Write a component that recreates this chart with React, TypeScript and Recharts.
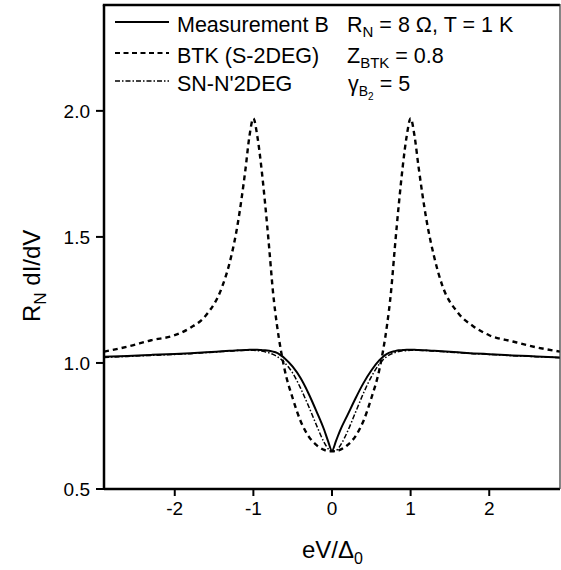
import React from "react";
import { LineChart, Line, XAxis, YAxis } from "recharts";

const energies = [
  -2.9, -2.6, -2.3, -2.0, -1.8, -1.6, -1.4, -1.3, -1.2, -1.1, -1.05, -1.0, -0.95,
  -0.9, -0.85, -0.8, -0.75, -0.7, -0.65, -0.6, -0.5, -0.4, -0.3, -0.2, -0.1, -0.05,
  0,
  0.05, 0.1, 0.2, 0.3, 0.4, 0.5, 0.6, 0.65, 0.7, 0.75, 0.8, 0.85, 0.9, 0.95, 1.0,
  1.05, 1.1, 1.2, 1.3, 1.4, 1.6, 1.8, 2.0, 2.3, 2.6, 2.9,
];

const measurementB = [
  1.025, 1.028, 1.032, 1.036, 1.039, 1.042, 1.046, 1.048, 1.05, 1.051, 1.052, 1.052, 1.052,
  1.051, 1.05, 1.048, 1.045, 1.04, 1.03, 1.018, 0.985, 0.94, 0.88, 0.81, 0.735, 0.69,
  0.652,
  0.69, 0.73, 0.795, 0.86, 0.92, 0.97, 1.01, 1.025, 1.036, 1.043, 1.047, 1.05, 1.051, 1.052, 1.052,
  1.052, 1.051, 1.05, 1.048, 1.046, 1.042, 1.038, 1.035, 1.03, 1.026, 1.022,
];

const btk = [
  1.045, 1.065, 1.09, 1.11, 1.14, 1.19, 1.3, 1.4, 1.55, 1.77, 1.9, 1.97, 1.9,
  1.78, 1.63, 1.46, 1.28, 1.15, 1.05, 0.97, 0.86, 0.77, 0.71, 0.675, 0.655, 0.65,
  0.65,
  0.65, 0.655, 0.675, 0.71, 0.77, 0.86, 0.97, 1.05, 1.15, 1.28, 1.46, 1.63, 1.78, 1.9, 1.97,
  1.9, 1.78, 1.57, 1.42, 1.31, 1.2, 1.145, 1.11, 1.085, 1.062, 1.045,
];

const snN2deg = [
  1.022, 1.026, 1.03, 1.034, 1.037, 1.041, 1.045, 1.047, 1.049, 1.05, 1.05, 1.05, 1.049,
  1.047, 1.044, 1.04, 1.034, 1.026, 1.015, 1.0, 0.96, 0.9, 0.83, 0.755, 0.685, 0.66,
  0.65,
  0.652, 0.67, 0.73, 0.805, 0.88, 0.945, 0.995, 1.013, 1.026, 1.035, 1.041, 1.045, 1.048, 1.049, 1.05,
  1.05, 1.05, 1.049, 1.047, 1.045, 1.041, 1.037, 1.034, 1.029, 1.025, 1.021,
];

const xTicks = [-2, -1, 0, 1, 2];
const yTicks = [0.5, 1.0, 1.5, 2.0];

const data = energies.map((e, i) => ({
  e,
  meas: measurementB[i],
  btk: btk[i],
  sn: snN2deg[i],
}));

const FONT = "'Liberation Sans', Arial, Helvetica, sans-serif";

export default function App() {
  return (
    <div style={{ position: "absolute", left: 0, top: 0, width: 561, height: 570, background: "#fff", fontFamily: FONT }}>
      <LineChart
        width={561}
        height={570}
        data={data}
        margin={{ top: 5, right: 1, bottom: 41, left: 44 }}
      >
        <XAxis
          dataKey="e"
          type="number"
          domain={[-2.9, 2.9]}
          ticks={xTicks}
          allowDataOverflow
          height={40}
          tickSize={7}
          tickMargin={6}
          axisLine={{ stroke: "#000", strokeWidth: 2.5 }}
          tickLine={{ stroke: "#000", strokeWidth: 2 }}
          tick={{ fill: "#000", fontSize: 19, fontFamily: FONT }}
        />
        <YAxis
          type="number"
          domain={[0.5, 2.42]}
          ticks={yTicks}
          allowDataOverflow
          width={60}
          tickSize={8}
          tickMargin={6}
          tickFormatter={(v: number) => v.toFixed(1)}
          axisLine={{ stroke: "#000", strokeWidth: 2.5 }}
          tickLine={{ stroke: "#000", strokeWidth: 2 }}
          tick={{ fill: "#000", fontSize: 19, fontFamily: FONT }}
        />
        <Line
          type="monotone"
          dataKey="btk"
          stroke="#000"
          strokeWidth={2.4}
          strokeDasharray="5 4"
          dot={false}
          isAnimationActive={false}
        />
        <Line
          type="monotone"
          dataKey="sn"
          stroke="#000"
          strokeWidth={1.5}
          strokeDasharray="5 2 1.5 2"
          dot={false}
          isAnimationActive={false}
        />
        <Line
          type="monotone"
          dataKey="meas"
          stroke="#000"
          strokeWidth={2}
          dot={false}
          isAnimationActive={false}
        />
      </LineChart>
      <svg
        width={561}
        height={570}
        style={{ position: "absolute", left: 0, top: 0, pointerEvents: "none" }}
        fontFamily={FONT}
      >
        <line x1={102.8} y1={5} x2={560} y2={5} stroke="#000" strokeWidth={2.5} />
        <line x1={560} y1={4} x2={560} y2={489} stroke="#333" strokeWidth={1.2} />
        <line x1={115} y1={22} x2={169} y2={22} stroke="#000" strokeWidth={1.8} />
        <line x1={115} y1={53} x2={169} y2={53} stroke="#000" strokeWidth={2} strokeDasharray="5 3.5" />
        <line x1={115} y1={81} x2={169} y2={81} stroke="#000" strokeWidth={1.4} strokeDasharray="5 2 1.5 2" />
        <text x={177} y={32} fontSize={21.5} fill="#000">Measurement B</text>
        <text x={177} y={63} fontSize={21.5} fill="#000">BTK (S-2DEG)</text>
        <text x={177} y={91} fontSize={21.5} fill="#000">SN-N'2DEG</text>
        <text x={347} y={32} fontSize={21.5} fill="#000">
          R<tspan fontSize={15} dy={5}>N</tspan>
          <tspan dy={-5}> = 8 Ω, T = 1 K</tspan>
        </text>
        <text x={347} y={63} fontSize={21.5} fill="#000">
          Z<tspan fontSize={15} dy={5}>BTK</tspan>
          <tspan dy={-5}> = 0.8</tspan>
        </text>
        <text x={348} y={91} fontSize={21.5} fill="#000">
          γ<tspan fontSize={14} dy={5}>B</tspan>
          <tspan fontSize={10} dy={4}>2</tspan>
          <tspan dy={-9}> = 5</tspan>
        </text>
        <text x={302} y={558} fontSize={24} fill="#000">
          eV/Δ<tspan fontSize={16} dy={6}>0</tspan>
        </text>
        <text transform="translate(40, 322) rotate(-90)" fontSize={24} fill="#000">
          R<tspan fontSize={17} dy={6}>N</tspan>
          <tspan dy={-6}> dI/dV</tspan>
        </text>
      </svg>
    </div>
  );
}
